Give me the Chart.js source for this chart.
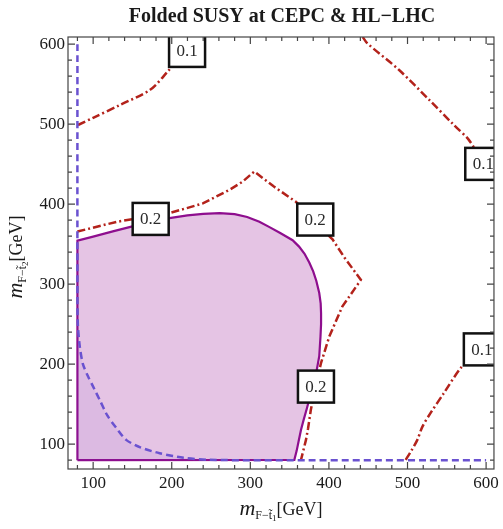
<!DOCTYPE html>
<html>
<head>
<meta charset="utf-8">
<script src="https://cdn.jsdelivr.net/npm/chart.js@4.4.0/dist/chart.umd.min.js"></script>
<style>
  body { margin: 0; background: #fff; }
  #wrap { width: 503px; height: 529px; }
</style>
</head>
<body>
<div id="wrap"><canvas id="myChart"></canvas></div>
<script>
// axis ticks
const xTicks = [100, 200, 300, 400, 500, 600];
const yTicks = [100, 200, 300, 400, 500, 600];
const minorTicks = [80, 120, 140, 160, 180, 220, 240, 260, 280, 320, 340, 360, 380, 420, 440, 460, 480, 520, 540, 560, 580];

// CEPC region, solid purple boundary (closed)
const cepcX = [80, 80, 100, 125, 148.7, 175, 197, 220, 240, 261, 280, 296, 311.5, 325, 338, 353.8, 362, 369, 375, 380, 384, 387.7, 389.5, 390, 390, 389.3, 387.7, 384, 379, 375.5, 372, 368, 364.5, 361.5, 359, 356, 80];
const cepcY = [80, 354.5, 359.5, 366, 372, 378, 382.5, 386, 388, 388.8, 387.5, 384, 378, 371, 364, 355, 347, 338, 327, 316, 304, 289, 276, 263.7, 250, 235, 210, 190, 172, 158, 145, 131, 118, 104, 92, 80.5, 80];

// HL-LHC reach, blue dashed
const lhcX = [80, 80, 80.5, 83, 87, 93.6, 100, 108.5, 118, 129.7, 142, 160, 184.6, 215, 248, 300, 600];
const lhcY = [600, 300, 250, 222, 200, 184.5, 172, 155, 136, 120, 105.4, 96, 88.7, 83, 80.5, 80, 80];
// shaded corner under the blue curve
const lhcFillX = [80, 80, 80.5, 83, 87, 93.6, 100, 108.5, 118, 129.7, 142, 160, 184.6, 215, 248, 80];
const lhcFillY = [80, 300, 250, 222, 200, 184.5, 172, 155, 136, 120, 105.4, 96, 88.7, 83, 80.5, 80];

// tuning contours, red dot-dashed
const c02X = [80, 130, 197, 239.6, 273.5, 290, 305, 330, 358, 380, 404.6, 420, 440.6, 417, 400.4, 389.8, 383, 377, 373.5, 370.8, 364.5];
const c02Y = [365.8, 378, 388.8, 401, 418, 428, 440.8, 422, 403, 380, 356, 333, 305.4, 272, 234.5, 201, 172, 143, 120, 105.4, 80.5];
const c01aX = [80.7, 100, 134, 172.5, 195, 219, 232];
const c01aY = [499, 508, 524, 543, 566, 593, 609];
const c01bX = [443, 449, 489, 527.6, 559, 578, 596, 610];
const c01bY = [609, 601, 568, 530.4, 499, 480.4, 452, 432];
const c01cX = [497.7, 505, 512.5, 519, 530, 545, 567.5, 585, 600, 610];
const c01cY = [80.5, 92, 105.4, 122, 140, 162, 195, 212, 226, 236];

// contour labels
const labelText = ['0.1', '0.2', '0.2', '0.2', '0.1', '0.1'];
const labelX = [219.5, 173.2, 382.6, 383.5, 596.4, 594.6];
const labelY = [591.6, 381.6, 380.8, 172, 450.4, 218.5];

const pts = (xs, ys) => xs.map((x, i) => ({x: x, y: ys[i]}));

const RED = '#B3221B';
const BLUE = '#6A52D0';
const PURPLE = '#8E0E8E';
const SERIF = '"Liberation Serif", "DejaVu Serif", serif';

function redContour(xs, ys, tension) {
  return {
    data: pts(xs, ys), showLine: true, pointRadius: 0, fill: false,
    borderColor: RED, borderWidth: 2.5, borderDash: [8, 3, 2, 3], tension: tension, order: 1
  };
}

function drawParts(ctx, parts, x, y) {
  parts.forEach(p => {
    ctx.font = p.font;
    ctx.fillText(p.text, x, y + (p.dy || 0));
    x += ctx.measureText(p.text).width;
  });
}
function partsWidth(ctx, parts) {
  let w = 0;
  parts.forEach(p => { ctx.font = p.font; w += ctx.measureText(p.text).width; });
  return w;
}
function axisParts(n) {
  return [
    {text: 'm', font: 'italic 22px ' + SERIF},
    {text: 'F\u2212t\u0303', font: '12px ' + SERIF, dy: 4},
    {text: n, font: '9px ' + SERIF, dy: 6},
    {text: '[GeV]', font: '18px ' + SERIF}
  ];
}

const frameTicks = {
  id: 'frameTicks',
  afterDatasetsDraw(chart) {
    const {ctx, chartArea: a, scales: {x, y}} = chart;
    // contour labels
    ctx.save();
    ctx.beginPath();
    ctx.rect(a.left, a.top, a.right - a.left, a.bottom - a.top);
    ctx.clip();
    labelText.forEach((t, i) => {
      const px = x.getPixelForValue(labelX[i]);
      const py = y.getPixelForValue(labelY[i]);
      ctx.fillStyle = '#fff';
      ctx.fillRect(px - 18, py - 16, 36, 32);
      ctx.strokeStyle = '#111';
      ctx.lineWidth = 2.5;
      ctx.strokeRect(px - 18, py - 16, 36, 32);
      ctx.fillStyle = '#2a2a2a';
      ctx.font = '17px ' + SERIF;
      ctx.textAlign = 'center';
      ctx.textBaseline = 'middle';
      ctx.fillText(t, px, py + 1);
    });
    ctx.restore();
  },
  afterDraw(chart) {
    const {ctx, chartArea: a, scales: {x, y}} = chart;
    ctx.save();
    ctx.strokeStyle = '#444';
    ctx.lineWidth = 1.2;
    ctx.strokeRect(a.left, a.top, a.right - a.left, a.bottom - a.top);
    const tick = (v, len) => {
      const px = x.getPixelForValue(v), py = y.getPixelForValue(v);
      ctx.beginPath();
      ctx.moveTo(px, a.bottom); ctx.lineTo(px, a.bottom - len);
      ctx.moveTo(px, a.top); ctx.lineTo(px, a.top + len);
      ctx.moveTo(a.left, py); ctx.lineTo(a.left + len, py);
      ctx.moveTo(a.right, py); ctx.lineTo(a.right - len, py);
      ctx.stroke();
    };
    xTicks.forEach(v => tick(v, 7));
    minorTicks.forEach(v => tick(v, 4));

    // title
    ctx.fillStyle = '#1a1a1a';
    ctx.textAlign = 'center';
    ctx.textBaseline = 'alphabetic';
    ctx.font = 'bold 20px ' + SERIF;
    ctx.fillText('Folded SUSY at CEPC & HL\u2212LHC', 282, 22);

    // axis titles
    ctx.textAlign = 'left';
    const xp = axisParts('1');
    drawParts(ctx, xp, (a.left + a.right) / 2 - partsWidth(ctx, xp) / 2, 515);
    const yp = axisParts('2');
    ctx.translate(22, 257);
    ctx.rotate(-Math.PI / 2);
    drawParts(ctx, yp, -partsWidth(ctx, yp) / 2, 0);
    ctx.restore();
  }
};

const ctx = document.getElementById('myChart').getContext('2d');
const chart = new Chart(ctx, {
  type: 'scatter',
  data: {
    datasets: [
      {data: pts(lhcX, lhcY), showLine: true, pointRadius: 0, fill: false,
       borderColor: BLUE, borderWidth: 2.5, borderDash: [7, 4], tension: 0.25, order: 0},
      redContour(c02X, c02Y, 0),
      redContour(c01aX, c01aY, 0.3),
      redContour(c01bX, c01bY, 0.3),
      redContour(c01cX, c01cY, 0.3),
      {data: pts(cepcX, cepcY), showLine: true, pointRadius: 0, fill: 'shape',
       backgroundColor: '#E5C4E4', borderColor: PURPLE, borderWidth: 2.2, tension: 0, order: 2},
      {data: pts(lhcFillX, lhcFillY), showLine: true, pointRadius: 0, fill: 'shape',
       backgroundColor: 'rgba(110,80,200,0.08)', borderWidth: 0, tension: 0.25, order: 1.5}
    ]
  },
  options: {
    responsive: true,
    maintainAspectRatio: false,
    animation: false,
    layout: {padding: {top: 37, right: 8, left: 0, bottom: 0}},
    plugins: {legend: {display: false}, tooltip: {enabled: false}},
    scales: {
      x: {
        type: 'linear', min: 68, max: 610,
        grid: {display: false, drawTicks: false}, border: {display: false},
        afterBuildTicks: s => { s.ticks = xTicks.map(v => ({value: v})); },
        afterFit: s => { s.height = 60; },
        ticks: {font: {family: SERIF, size: 17}, color: '#1a1a1a', padding: 4, maxRotation: 0, autoSkip: false}
      },
      y: {
        type: 'linear', min: 69, max: 609,
        grid: {display: false, drawTicks: false}, border: {display: false},
        afterBuildTicks: s => { s.ticks = yTicks.map(v => ({value: v})); },
        afterFit: s => { s.width = 68; },
        ticks: {font: {family: SERIF, size: 17}, color: '#1a1a1a', padding: 3, autoSkip: false}
      }
    }
  },
  plugins: [frameTicks]
});
</script>
</body>
</html>
